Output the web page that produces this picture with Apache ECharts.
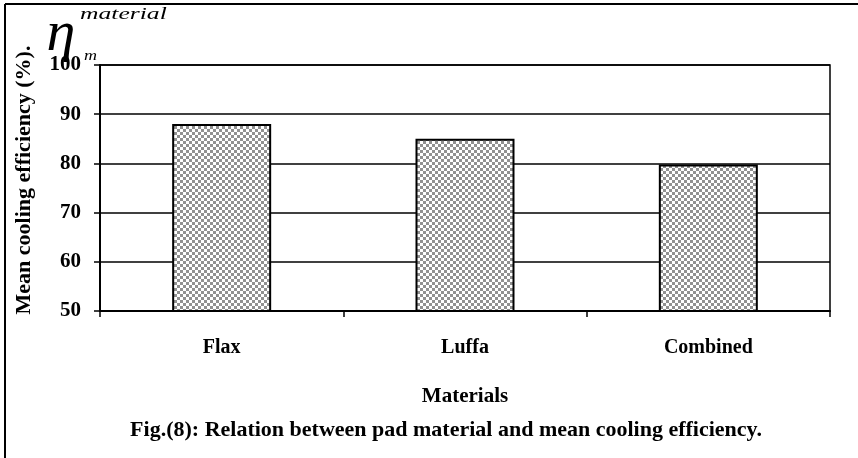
<!DOCTYPE html>
<html>
<head>
<meta charset="utf-8">
<script src="https://cdn.jsdelivr.net/npm/echarts@6/dist/echarts.min.js"></script>
<style>
  html, body { margin: 0; padding: 0; background: #fff; }
  #main { width: 858px; height: 458px; }
</style>
</head>
<body>
<div id="main"></div>
<script>
// data
var materials = ['Flax', 'Luffa', 'Combined'];
var efficiency = [88, 85, 79.8];
var yTicks = [50, 60, 70, 80, 90, 100];

// checkerboard fill like the excel pattern
function checker() {
    var c = document.createElement('canvas');
    c.width = 6; c.height = 6;
    var ctx = c.getContext('2d');
    ctx.fillStyle = '#ffffff';
    ctx.fillRect(0, 0, 6, 6);
    ctx.fillStyle = '#919191';
    ctx.fillRect(0, 0, 3, 3);
    ctx.fillRect(3, 3, 3, 3);
    return c;
}

var font = '"Liberation Serif", "Times New Roman", serif';
var myChart = echarts.init(document.getElementById('main'));

var option = {
    backgroundColor: '#fff',
    animation: false,
    grid: { left: 100, right: 28, top: 65, bottom: 147, show: true, borderColor: '#000', borderWidth: 1.5 },
    xAxis: {
        type: 'category',
        data: materials,
        axisLine: { lineStyle: { color: '#000', width: 2 } },
        axisTick: { show: true, length: 6, lineStyle: { color: '#000', width: 1.5 } },
        axisLabel: { color: '#000', fontFamily: font, fontWeight: 'bold', fontSize: 20, margin: 27 },
        name: 'Materials',
        nameLocation: 'middle',
        nameGap: 75,
        nameTextStyle: { color: '#000', fontFamily: font, fontWeight: 'bold', fontSize: 21 }
    },
    yAxis: {
        type: 'value',
        min: yTicks[0],
        max: yTicks[yTicks.length - 1],
        interval: 10,
        axisLine: { show: true, lineStyle: { color: '#000', width: 2 } },
        axisTick: { show: true, length: 6, lineStyle: { color: '#000', width: 1.5 } },
        splitLine: { lineStyle: { color: '#000', width: 1.5 } },
        axisLabel: { color: '#000', fontFamily: font, fontWeight: 'bold', fontSize: 21, margin: 19 }
    },
    series: [{
        type: 'bar',
        data: efficiency,
        barWidth: 99,
        itemStyle: {
            color: { image: checker(), repeat: 'repeat' },
            borderColor: '#000',
            borderWidth: 2
        }
    }],
    graphic: [
        { type: 'line', shape: { x1: 5, y1: 4, x2: 858, y2: 4 }, style: { stroke: '#000', lineWidth: 2 } },
        { type: 'line', shape: { x1: 5, y1: 4, x2: 5, y2: 458 }, style: { stroke: '#000', lineWidth: 2 } },
        {
            type: 'text', x: 24, y: 180, rotation: Math.PI / 2,
            style: { text: 'Mean cooling efficiency (%).', font: 'bold 22px ' + font, fill: '#000', textAlign: 'center', textVerticalAlign: 'middle' }
        },
        {
            type: 'text', x: 61, y: 35,
            style: { text: 'η', font: 'italic 58px ' + font, fill: '#000', textAlign: 'center', textVerticalAlign: 'middle' }
        },
        {
            type: 'text', x: 80, y: 15, scaleX: 1.6,
            style: { text: 'material', font: 'italic 16px ' + font, fill: '#000', textVerticalAlign: 'middle' }
        },
        {
            type: 'text', x: 84, y: 56, scaleX: 1.2,
            style: { text: 'm', font: 'italic 15px ' + font, fill: '#000', textVerticalAlign: 'middle' }
        },
        {
            type: 'text', x: 446, y: 430,
            style: { text: 'Fig.(8): Relation between pad material and mean cooling efficiency.', font: 'bold 22px ' + font, fill: '#000', textAlign: 'center', textVerticalAlign: 'middle' }
        }
    ]
};

myChart.setOption(option);
</script>
</body>
</html>
